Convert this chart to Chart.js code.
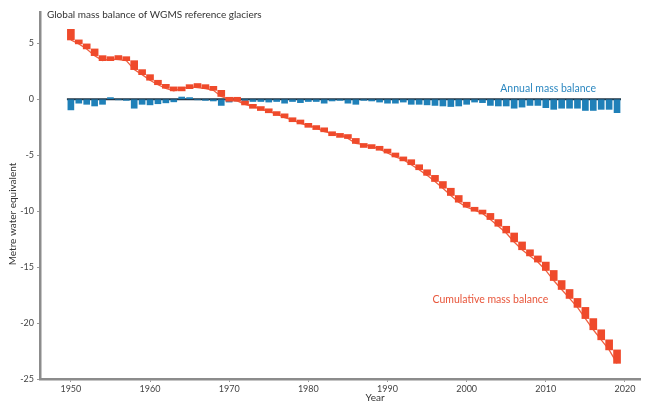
<!DOCTYPE html>
<html>
<head>
<meta charset="utf-8">
<script src="https://cdn.jsdelivr.net/npm/chart.js@4.4.1/dist/chart.umd.min.js"></script>
<style>
  html, body { margin: 0; padding: 0; background: #ffffff; }
  #wrap { width: 645px; height: 406px; }
</style>
</head>
<body>
<div id="wrap"><canvas id="chart" width="645" height="406"></canvas></div>
<script>
// Years of record
const years = [
  1950, 1951, 1952, 1953, 1954, 1955, 1956, 1957, 1958, 1959,
  1960, 1961, 1962, 1963, 1964, 1965, 1966, 1967, 1968, 1969,
  1970, 1971, 1972, 1973, 1974, 1975, 1976, 1977, 1978, 1979,
  1980, 1981, 1982, 1983, 1984, 1985, 1986, 1987, 1988, 1989,
  1990, 1991, 1992, 1993, 1994, 1995, 1996, 1997, 1998, 1999,
  2000, 2001, 2002, 2003, 2004, 2005, 2006, 2007, 2008, 2009,
  2010, 2011, 2012, 2013, 2014, 2015, 2016, 2017, 2018, 2019
];

// Annual mass balance (m w.e.)
const annualBalance = [
  -0.95, -0.35, -0.45, -0.60, -0.45,  0.15, -0.05, -0.10, -0.80, -0.45,
  -0.50, -0.40, -0.32, -0.23,  0.20,  0.15, -0.05, -0.10, -0.15, -0.55,
  -0.25, -0.15, -0.30, -0.20, -0.20, -0.25, -0.20, -0.35, -0.20, -0.30,
  -0.20, -0.20, -0.35, -0.15, -0.10, -0.35, -0.45, -0.10, -0.15, -0.25,
  -0.35, -0.35, -0.25, -0.45, -0.45, -0.50, -0.55, -0.60, -0.65, -0.60,
  -0.45, -0.25, -0.30, -0.55, -0.60, -0.60, -0.80, -0.70, -0.55, -0.55,
  -0.75, -0.90, -0.80, -0.80, -0.80, -1.00, -1.00, -0.90, -0.90, -1.20
];

// Cumulative mass balance at the end of each year (m w.e., 1970 = 0)
const cumulativeBalance = [
   5.30,  4.95,  4.50,  3.90,  3.45,  3.60,  3.55,  3.45,  2.65,  2.20,
   1.70,  1.30,  0.98,  0.75,  0.95,  1.10,  1.05,  0.95,  0.80,  0.25,
   0.00, -0.15, -0.45, -0.65, -0.85, -1.10, -1.30, -1.65, -1.85, -2.15,
  -2.35, -2.55, -2.90, -3.05, -3.15, -3.50, -3.95, -4.05, -4.20, -4.45,
  -4.80, -5.15, -5.40, -5.85, -6.30, -6.80, -7.35, -7.95, -8.60, -9.20,
  -9.65, -9.90, -10.20, -10.75, -11.35, -11.95, -12.75, -13.45, -14.00, -14.55,
  -15.30, -16.20, -17.00, -17.80, -18.60, -19.60, -20.60, -21.50, -22.40, -23.60
];

const xTicks = [1950, 1960, 1970, 1980, 1990, 2000, 2010, 2020];
const yTicks = [-25, -20, -15, -10, -5, 0, 5];

const BLUE = '#1f80b8';
const RED = '#ef4a2b';
const FONT = 'Lato, "Open Sans", sans-serif';

// Each cumulative step is drawn as a floating block from the previous year's total
const cumulativeSteps = years.map((yr, i) => {
  const start = i === 0 ? cumulativeBalance[0] - annualBalance[0] : cumulativeBalance[i - 1];
  return { x: yr, y: [start, cumulativeBalance[i]] };
});

const annualPoints = years.map((yr, i) => ({ x: yr, y: annualBalance[i] }));
const cumulativePoints = years.map((yr, i) => ({ x: yr, y: cumulativeBalance[i] }));
const zeroLine = [{ x: years[0] - 0.5, y: 0 }, { x: years[years.length - 1] + 0.5, y: 0 }];

const textPlugin = {
  id: 'chartText',
  afterDraw(chart) {
    const ctx = chart.ctx;
    const xs = chart.scales.x, ys = chart.scales.y;
    ctx.save();
    ctx.textBaseline = 'middle';

    ctx.fillStyle = '#333333';
    ctx.font = '10px ' + FONT;
    ctx.textAlign = 'left';
    ctx.fillText('Global mass balance of WGMS reference glaciers', chart.chartArea.left + 7, 15);

    ctx.fillStyle = '#2b87c0';
    ctx.font = '10.5px ' + FONT;
    ctx.textAlign = 'center';
    ctx.fillText('Annual mass balance', xs.getPixelForValue(2010.3), ys.getPixelForValue(0.95));

    ctx.fillStyle = '#e8553a';
    ctx.fillText('Cumulative mass balance', xs.getPixelForValue(2003), ys.getPixelForValue(-17.9));

    ctx.fillStyle = '#333333';
    ctx.font = '10px ' + FONT;
    ctx.fillText('Year', 375, 398);

    ctx.translate(13, 214);
    ctx.rotate(-Math.PI / 2);
    ctx.fillText('Metre water equivalent', 0, 0);
    ctx.restore();
  }
};

new Chart(document.getElementById('chart'), {
  type: 'bar',
  data: {
    datasets: [
      {
        type: 'line',
        label: 'Zero',
        data: zeroLine,
        borderColor: '#1d3344',
        borderWidth: 2,
        pointRadius: 0,
        order: 3
      },
      {
        type: 'bar',
        label: 'Annual mass balance',
        data: annualPoints,
        backgroundColor: BLUE,
        barThickness: 6,
        grouped: false,
        order: 2
      },
      {
        type: 'line',
        label: 'Cumulative line',
        data: cumulativePoints,
        borderColor: '#f06040',
        borderWidth: 1.3,
        pointRadius: 0,
        order: 1
      },
      {
        type: 'bar',
        label: 'Cumulative mass balance',
        data: cumulativeSteps,
        backgroundColor: RED,
        barThickness: 7,
        minBarLength: 4,
        grouped: false,
        order: 0
      }
    ]
  },
  options: {
    responsive: false,
    animation: false,
    layout: { padding: { left: 0, top: 12, right: 5, bottom: 0 } },
    plugins: {
      legend: { display: false },
      tooltip: { enabled: false }
    },
    scales: {
      x: {
        type: 'linear',
        offset: false,
        min: 1946.1,
        max: 2021.9,
        afterBuildTicks: (s) => { s.ticks = xTicks.map(v => ({ value: v })); },
        afterFit: (s) => { s.height = 27; },
        grid: { display: true, offset: false, drawOnChartArea: false, drawTicks: true, tickLength: 3, color: '#999999' },
        border: { display: true, color: '#8c8c8c', width: 2.5 },
        ticks: {
          color: '#444444',
          font: { family: FONT, size: 9 },
          padding: 2,
          maxRotation: 0,
          callback: (v) => String(v)
        }
      },
      y: {
        type: 'linear',
        min: -25,
        max: 7.8,
        afterBuildTicks: (s) => { s.ticks = yTicks.map(v => ({ value: v })); },
        afterFit: (s) => { s.width = 40; },
        grid: { display: true, drawOnChartArea: false, drawTicks: true, tickLength: 3, color: '#999999' },
        border: { display: true, color: '#8c8c8c', width: 2.5 },
        ticks: {
          color: '#444444',
          font: { family: FONT, size: 9 },
          padding: 3,
          callback: (v) => String(v)
        }
      }
    }
  },
  plugins: [textPlugin]
});
</script>
</body>
</html>
